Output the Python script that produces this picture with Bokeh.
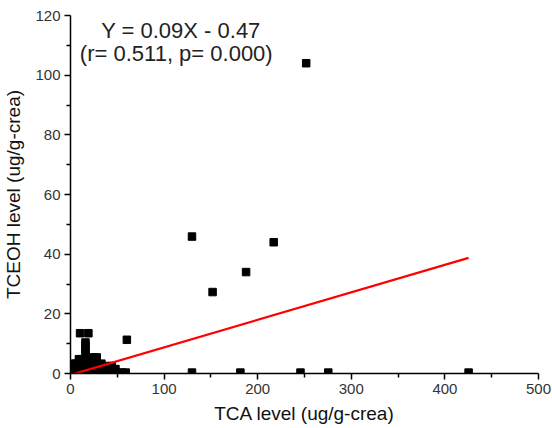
from bokeh.plotting import figure
from bokeh.models import FixedTicker, Label, ColumnDataSource
from bokeh.embed import file_html
from bokeh.resources import INLINE

# TCA level (x) and TCEOH level (y)
tca_values = [
    251.8, 129.8, 217.1, 187.6, 151.8, 60.2, 10.2, 19.1,
    129.8, 181.5, 245.7, 275.4, 425.3,
    2, 8, 14, 20, 26, 32, 38, 44, 50, 55, 59,
    2, 8, 14, 20, 26, 32, 38, 44, 48,
    3, 9, 15, 21, 27, 33, 40, 44,
    2, 6, 10, 16, 22, 28, 33,
    9, 13, 18, 22, 26,
    24, 28,
    16, 16, 16, 16,
]
tceoh_values = [
    104.0, 45.9, 44.0, 34.0, 27.3, 11.3, 13.5, 13.5,
    0.3, 0.3, 0.3, 0.3, 0.3,
    0.3, 0.3, 0.3, 0.3, 0.3, 0.3, 0.3, 0.3, 0.3, 0.3, 0.3,
    1.5, 1.5, 1.5, 1.5, 1.5, 1.5, 1.5, 1.5, 1.5,
    2.5, 2.5, 2.5, 2.5, 2.5, 2.5, 2.5, 2.5,
    3.3, 3.3, 3.3, 3.3, 3.3, 3.3, 3.3,
    4.8, 4.8, 4.8, 4.8, 4.8,
    5.4, 5.4,
    6.5, 8.0, 9.2, 10.4,
]
fit_slope = 0.0922
fit_intercept = -0.47
equation_text = "Y = 0.09X - 0.47"
stats_text = "(r= 0.511, p= 0.000)"
x_ticks = [0, 100, 200, 300, 400, 500]
y_ticks = [0, 20, 40, 60, 80, 100, 120]

FONT = "Liberation Sans"

p = figure(width=552, height=428, x_range=(0, 500), y_range=(0, 120),
           output_backend="svg", toolbar_location=None,
           min_border_left=70, min_border_right=14,
           min_border_top=15, min_border_bottom=55)
p.outline_line_color = None
p.xgrid.visible = False
p.ygrid.visible = False

src = ColumnDataSource(dict(x=tca_values, y=tceoh_values))
p.scatter("x", "y", source=src, marker="square", size=7.5,
          fill_color="black", line_color="black")

x_fit = [min(tca_values), max(tca_values)]
y_fit = [fit_slope * v + fit_intercept for v in x_fit]
p.line(x_fit, y_fit, line_color="red", line_width=2.2)

p.xaxis.ticker = FixedTicker(ticks=x_ticks, minor_ticks=[50, 150, 250, 350, 450])
p.yaxis.ticker = FixedTicker(ticks=y_ticks, minor_ticks=[10, 30, 50, 70, 90, 110])
p.xaxis.axis_label = "TCA level (ug/g-crea)"
p.yaxis.axis_label = "TCEOH level (ug/g-crea)"
for ax in (p.xaxis, p.yaxis):
    ax.axis_line_width = 1.5
    ax.axis_line_color = "black"
    ax.major_tick_line_color = "black"
    ax.minor_tick_line_color = "black"
    ax.major_tick_line_width = 1.5
    ax.minor_tick_line_width = 1.5
    ax.major_tick_out = 6
    ax.major_tick_in = 0
    ax.minor_tick_out = 4
    ax.minor_tick_in = 0
    ax.major_label_text_font = FONT
    ax.major_label_text_font_size = "15px"
    ax.major_label_text_color = "#333333"
    ax.axis_label_text_font = FONT
    ax.axis_label_text_font_size = "19px"
    ax.axis_label_text_font_style = "normal"
    ax.axis_label_text_color = "#111111"
    ax.major_label_standoff = 4
p.xaxis.axis_label_standoff = 6
p.yaxis.axis_label_standoff = 8

p.add_layout(Label(x=118, y=115, text=equation_text, text_align="center",
                   text_baseline="alphabetic", text_font=FONT,
                   text_font_size="22px", text_color="#222222"))
p.add_layout(Label(x=113, y=107.2, text=stats_text, text_align="center",
                   text_baseline="alphabetic", text_font=FONT,
                   text_font_size="22px", text_color="#222222"))

open("out.html", "w").write(file_html(p, INLINE))
